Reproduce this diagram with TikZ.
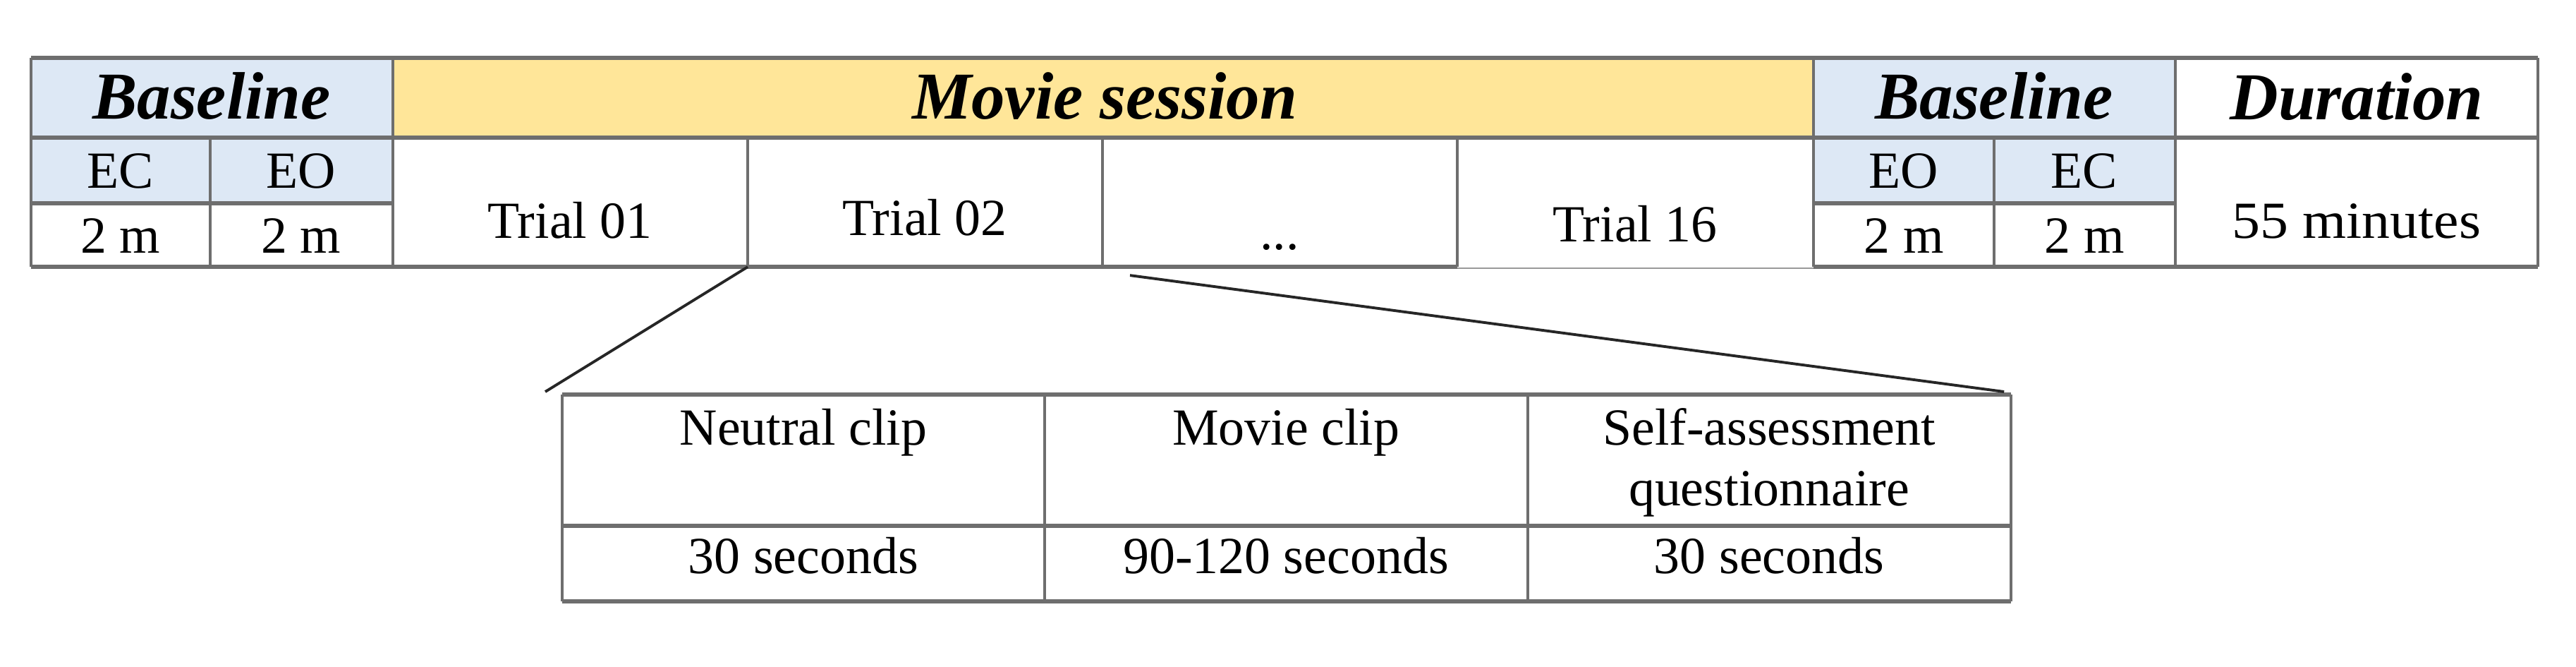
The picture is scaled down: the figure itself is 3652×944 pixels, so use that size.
\documentclass[tikz,border=0pt]{standalone}
\usepackage{fontspec}
\setmainfont{Liberation Serif}
\usetikzlibrary{calc}
\definecolor{hdblue}{HTML}{DDE8F5}
\definecolor{hdgold}{HTML}{FFE699}
\definecolor{gridgray}{HTML}{6E6E6E}
\newcommand\bodyfont{\fontsize{21}{25}\selectfont}
\newcommand\headfont{\fontsize{27}{32}\selectfont\bfseries\itshape}
\tikzset{
  hrule/.style={draw=gridgray, line width=1.45pt},
  thinrule/.style={draw=gridgray!70, line width=0.8pt},
  vrule/.style={draw=gridgray, line width=1.1pt},
  txt/.style={inner sep=0pt, outer sep=0pt, anchor=base, font=\bodyfont},
  hdtxt/.style={inner sep=0pt, outer sep=0pt, anchor=base, font=\headfont},
  cellbox/.style={inner sep=0pt, outer sep=0pt, anchor=north west},
  zoomline/.style={draw=black!85, line width=1.1pt},
}
\begin{document}
\begin{tikzpicture}[x=0.01cm,y=-0.01cm]
\useasboundingbox (0,0) rectangle (3652,944);
% fills
\fill[hdblue] (44,82) rectangle (557,288);
\fill[hdgold] (557,82) rectangle (2571,195);
\fill[hdblue] (2571,82) rectangle (3084,288);
% cell nodes used for connectors
\node[cellbox, minimum width=5.03cm, minimum height=1.83cm] (trialtwo) at (1060,195) {};
\node[cellbox, minimum width=5.03cm, minimum height=1.83cm] (dotscell) at (1563,195) {};
\node[cellbox, minimum width=20.54cm, minimum height=2.93cm] (sub) at (797,559) {};
% horizontal rules
\draw[hrule] (44,82) -- (3598,82);
\draw[hrule] (44,195) -- (3598,195);
\draw[hrule] (44,288) -- (557,288);
\draw[hrule] (2571,288) -- (3084,288);
\draw[hrule] (44,378) -- (2066,378);
\draw[thinrule] (2066,380) -- (2571,380);
\draw[hrule] (2571,378) -- (3598,378);
% vertical rules
\draw[vrule] (44,82) -- (44,378);
\draw[vrule] (298,195) -- (298,378);
\draw[vrule] (557,82) -- (557,378);
\draw[vrule] (1060,195) -- (1060,378);
\draw[vrule] (1563,195) -- (1563,378);
\draw[vrule] (2066,195) -- (2066,378);
\draw[vrule] (2571,82) -- (2571,378);
\draw[vrule] (2827,195) -- (2827,378);
\draw[vrule] (3084,82) -- (3084,378);
\draw[vrule] (3598,82) -- (3598,378);
% header texts
\node[hdtxt] (blA) at (300,168) {Baseline};
\node[hdtxt] (movie) at (1566,168) {Movie session};
\node[hdtxt] (blB) at (2827,168) {Baseline};
\node[hdtxt] (dur) at (3341,169) {Duration};
% second row
\node[txt] (ecA) at (171,266) {EC};
\node[txt] (eoA) at (427,266) {EO};
\node[txt] (eoB) at (2699,266) {EO};
\node[txt] (ecB) at (2955,266) {EC};
\node[txt] (mA) at (171,358) {2 m};
\node[txt] (mB) at (427,358) {2 m};
\node[txt] (mC) at (2699,358) {2 m};
\node[txt] (mD) at (2955,358) {2 m};
\node[txt] (tone) at (808,337) {Trial 01};
\node[txt] (ttwo) at (1311,333) {Trial 02};
\node[txt] (dots) at (1814,353) {...};
\node[txt] (tsix) at (2318,342) {Trial 16};
\node[txt] (total) at (3341,337) {\scalebox{1.08}[1]{55 minutes}};
% sub table
\draw[hrule] (797,559) -- (2851,559);
\draw[hrule] (797,745) -- (2851,745);
\draw[hrule] (797,852) -- (2851,852);
\draw[vrule] (797,559) -- (797,852);
\draw[vrule] (1481,559) -- (1481,852);
\draw[vrule] (2166,559) -- (2166,852);
\draw[vrule] (2851,559) -- (2851,852);
\node[txt] (neutral) at (1139,630) {Neutral clip};
\node[txt] (movieclip) at (1823,630) {Movie clip};
\node[txt] (selfa) at (2508,630) {Self-assessment};
\node[txt] (selfb) at (2508,716) {questionnaire};
\node[txt] (sA) at (1139,812) {30 seconds};
\node[txt] (sB) at (1823,812) {90-120 seconds};
\node[txt] (sC) at (2508,812) {30 seconds};
% zoom connectors
\coordinate (lstart) at (trialtwo.south west);
\coordinate (lend) at ($(sub.north west)+(-24,-4)$);
\coordinate (rstart) at ($(dotscell.south west)+(39,12)$);
\coordinate (rend) at ($(sub.north east)+(-11,-4)$);
\draw[zoomline] (lstart) -- (lend);
\draw[zoomline] (rstart) -- (rend);
\end{tikzpicture}
\end{document}
